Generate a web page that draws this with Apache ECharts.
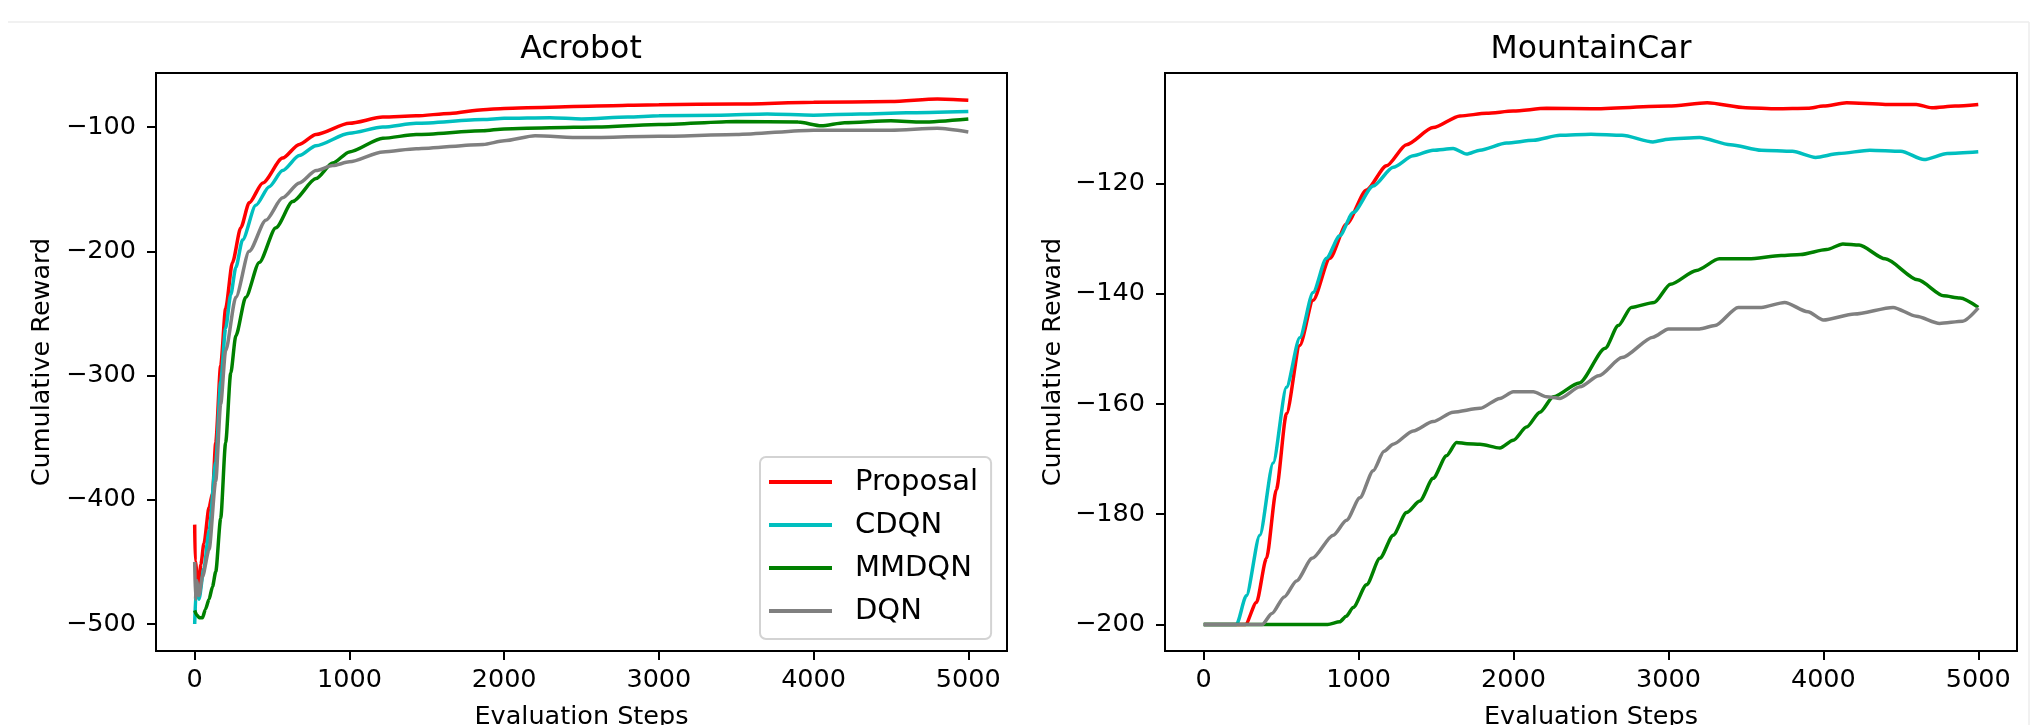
<!DOCTYPE html>
<html><head><meta charset="utf-8">
<script src="https://cdn.jsdelivr.net/npm/echarts@6/dist/echarts.min.js"></script>
<style>html,body{margin:0;padding:0;background:#fff}#c{width:2039px;height:725px}</style>
</head><body><div id="c"></div>
<script>
const seriesNames = ['Proposal', 'CDQN', 'MMDQN', 'DQN'];
const seriesColors = ['#ff0000', '#00bfbf', '#008000', '#808080'];
const titles = ['Acrobot', 'MountainCar'];
const xTicks = [0, 1000, 2000, 3000, 4000, 5000];
const acroYTicks = [-500, -400, -300, -200, -100];
const carYTicks = [-200, -180, -160, -140, -120];

// Acrobot
const acroProposalX = [0, 3, 25, 40, 60, 93, 115, 136, 168, 200, 244, 298, 352, 440, 568, 676, 784, 1000, 1216, 1432, 1650, 1864, 2000, 2296, 2600, 3000, 3500, 4000, 4500, 4800, 5000];
const acroProposalY = [-420, -449, -470, -452, -435, -406, -395, -354, -292, -246, -209, -181, -161, -145, -125, -114, -106, -97, -92, -91, -89, -86, -85, -84, -83, -82, -81.5, -80, -79.5, -77.5, -78.5];
const acroCdqnX = [0, 10, 28, 60, 93, 136, 168, 200, 233, 266, 309, 395, 482, 568, 676, 784, 1000, 1216, 1432, 1864, 2000, 2296, 2500, 2800, 3000, 3400, 3700, 4000, 4300, 4600, 5000];
const acroCdqnY = [-500, -470, -480, -455, -425, -370, -305, -262, -235, -213, -191, -163, -148, -135, -123, -115, -105, -100, -97, -94, -93, -92.5, -93.5, -92, -91, -90.5, -89.5, -90.5, -89.5, -88.5, -87.5];
const acroMmdqnX = [0, 15, 30, 50, 70, 93, 115, 136, 168, 200, 233, 266, 330, 417, 525, 633, 784, 892, 1000, 1216, 1432, 1864, 2000, 2296, 2600, 3000, 3500, 3900, 4050, 4200, 4500, 4700, 5000];
const acroMmdqnY = [-489, -493, -495, -495, -488, -480, -470, -458, -415, -354, -298, -268, -237, -209, -181, -160, -141.5, -129, -120, -109, -106, -103, -101.5, -100.5, -100, -98, -95.5, -96, -99, -96.5, -95, -96, -93.5];
const acroDqnX = [0, 5, 12, 28, 50, 93, 136, 168, 200, 266, 352, 460, 568, 676, 784, 892, 1000, 1216, 1432, 1864, 2000, 2200, 2500, 3000, 3500, 4000, 4500, 4800, 5000];
const acroDqnY = [-450, -480, -465, -477, -462, -440, -385, -323, -280, -237, -200, -175, -157, -145, -135, -131, -128, -120, -117.5, -114, -111, -107, -108.5, -107.5, -106, -102.5, -102.5, -101, -104];

// MountainCar
const carProposalX = [0, 269, 340, 405, 469, 534, 620, 706, 814, 922, 1051, 1180, 1309, 1481, 1654, 1826, 1998, 2213, 2500, 3000, 3250, 3500, 3700, 3900, 4000, 4150, 4400, 4600, 4700, 4850, 5000];
const carProposalY = [-200, -200, -196, -188, -175.5, -161.8, -149.4, -141.2, -133.6, -127.4, -121.2, -116.8, -113, -109.9, -107.8, -107.3, -106.9, -106.4, -106.5, -106, -105.4, -106.3, -106.5, -106.4, -106, -105.4, -105.7, -105.7, -106.3, -106, -105.7];
const carCdqnX = [0, 211, 275, 362, 448, 534, 620, 706, 792, 878, 965, 1094, 1223, 1352, 1481, 1610, 1697, 1783, 1955, 2128, 2300, 2500, 2700, 2900, 3000, 3200, 3400, 3600, 3800, 3950, 4100, 4300, 4500, 4650, 4800, 5000];
const carCdqnY = [-200, -200, -194.8, -183.8, -170.7, -157, -148, -139.8, -133.6, -129.5, -125.3, -120.5, -117.1, -115, -114, -113.7, -114.7, -114, -112.7, -112.2, -111.3, -111.1, -111.3, -112.5, -112, -111.7, -113, -114, -114.2, -115.3, -114.6, -114, -114.2, -115.7, -114.6, -114.3];
const carMmdqnX = [0, 800, 878, 920, 965, 1051, 1137, 1223, 1309, 1395, 1481, 1567, 1632, 1700, 1783, 1912, 1998, 2084, 2170, 2257, 2424, 2592, 2676, 2760, 2908, 3013, 3181, 3328, 3517, 3727, 3853, 4021, 4126, 4231, 4399, 4609, 4777, 4882, 5000];
const carMmdqnY = [-200, -200, -199.5, -198.5, -196.9, -192.8, -188, -183.8, -179.7, -177.6, -173.5, -169.4, -167, -167.2, -167.3, -168, -166.6, -164.2, -161.5, -158.7, -156.2, -149.9, -145.8, -142.5, -141.6, -138.3, -135.8, -133.7, -133.7, -133.1, -132.9, -132, -131, -131.2, -133.7, -137.5, -140.4, -140.8, -142.5];
const carDqnX = [0, 377, 440, 520, 599, 700, 836, 922, 1008, 1094, 1164, 1223, 1352, 1481, 1610, 1783, 1912, 1998, 2128, 2213, 2300, 2429, 2550, 2700, 2900, 3000, 3200, 3300, 3450, 3600, 3750, 3900, 4000, 4200, 4450, 4600, 4750, 4900, 5000];
const carDqnY = [-200, -200, -198, -195, -192.1, -188, -183.8, -181.1, -177, -172.1, -168.6, -167.3, -164.9, -163.2, -161.5, -160.8, -159, -157.8, -157.8, -158.7, -159, -156.9, -154.9, -151.6, -147.9, -146.4, -146.4, -145.8, -142.5, -142.5, -141.6, -143.3, -144.8, -143.7, -142.5, -144.1, -145.4, -145, -142.6];

const acroData = [[acroProposalX, acroProposalY], [acroCdqnX, acroCdqnY], [acroMmdqnX, acroMmdqnY], [acroDqnX, acroDqnY]];
const carData = [[carProposalX, carProposalY], [carCdqnX, carCdqnY], [carMmdqnX, carMmdqnY], [carDqnX, carDqnY]];

const FONT = 'DejaVu Sans';
const zip = (xs, ys) => xs.map((x, i) => [x, ys[i]]);
const fmt = v => (v < 0 ? '\u2212' + Math.abs(v) : String(v));

function xAxis(gi) {
  return {
    type: 'value', gridIndex: gi, min: -250, max: 5250,
    name: 'Evaluation Steps', nameLocation: 'middle', nameGap: 53,
    nameTextStyle: { fontFamily: FONT, fontSize: 25.5, color: '#000' },
    axisLine: { show: true, onZero: false, lineStyle: { color: '#000', width: 2 } },
    axisTick: { show: true, inside: false, length: 9, lineStyle: { color: '#000', width: 2 }, customValues: xTicks },
    axisLabel: { margin: 16, fontFamily: FONT, fontSize: 25.5, color: '#000', formatter: fmt, customValues: xTicks },
    splitLine: { show: false }
  };
}
function yAxis(gi, min, max, ticks, gap) {
  return {
    type: 'value', gridIndex: gi, min: min, max: max,
    name: 'Cumulative Reward', nameLocation: 'middle', nameGap: gap, nameRotate: 90,
    nameTextStyle: { fontFamily: FONT, fontSize: 25.5, color: '#000' },
    axisLine: { show: true, onZero: false, lineStyle: { color: '#000', width: 2 } },
    axisTick: { show: true, inside: false, length: 9, lineStyle: { color: '#000', width: 2 }, customValues: ticks },
    axisLabel: { margin: 20, fontFamily: FONT, fontSize: 25.5, color: '#000', formatter: fmt, customValues: ticks },
    splitLine: { show: false }
  };
}

const series = [];
[acroData, carData].forEach((data, gi) => {
  data.forEach((d, si) => {
    series.push({
      type: 'line', name: seriesNames[si], xAxisIndex: gi, yAxisIndex: gi,
      data: zip(d[0], d[1]), showSymbol: false, symbol: 'none',
      smooth: 0.25, smoothMonotone: 'x',
      lineStyle: { color: seriesColors[si], width: 3.5 }, itemStyle: { color: seriesColors[si] },
      animation: false
    });
  });
});

const chart = echarts.init(document.getElementById('c'), null, { renderer: 'canvas' });
chart.setOption({
  backgroundColor: '#fff',
  animation: false,
  title: [
    { text: titles[0], left: 581, top: 34, textAlign: 'center', padding: 0, textStyle: { fontFamily: FONT, fontSize: 31.5, fontWeight: 'normal', color: '#000' } },
    { text: titles[1], left: 1591, top: 34, textAlign: 'center', padding: 0, textStyle: { fontFamily: FONT, fontSize: 31.5, fontWeight: 'normal', color: '#000' } }
  ],
  grid: [
    { left: 156, top: 73, width: 851, height: 578, containLabel: false, outerBoundsMode: 'none', show: true, borderColor: '#000', borderWidth: 2, backgroundColor: 'transparent' },
    { left: 1165, top: 73, width: 852, height: 578, containLabel: false, outerBoundsMode: 'none', show: true, borderColor: '#000', borderWidth: 2, backgroundColor: 'transparent' }
  ],
  xAxis: [xAxis(0), xAxis(1)],
  yAxis: [yAxis(0, -521.7, -56.5, acroYTicks, 101), yAxis(1, -204.8, -100, carYTicks, 99)],
  legend: {
    data: seriesNames, orient: 'vertical', left: 760, top: 457,
    icon: 'rect', itemWidth: 63, itemHeight: 4, itemGap: 13,
    padding: [10, 13, 13, 9],
    backgroundColor: 'rgba(255,255,255,0.8)', borderColor: '#d3d3d3', borderWidth: 2, borderRadius: 6,
    textStyle: { fontFamily: FONT, fontSize: 29, lineHeight: 30, color: '#000', padding: [0, 0, 0, 18] },
    selectedMode: false
  },
  graphic: [
    { type: 'line', shape: { x1: 8, y1: 22, x2: 2029, y2: 22 }, style: { stroke: '#ececec', lineWidth: 1.5 } },
    { type: 'line', shape: { x1: 2029, y1: 22, x2: 2029, y2: 725 }, style: { stroke: '#ececec', lineWidth: 1.5 } }
  ],
  series: series
});
</script></body></html>
